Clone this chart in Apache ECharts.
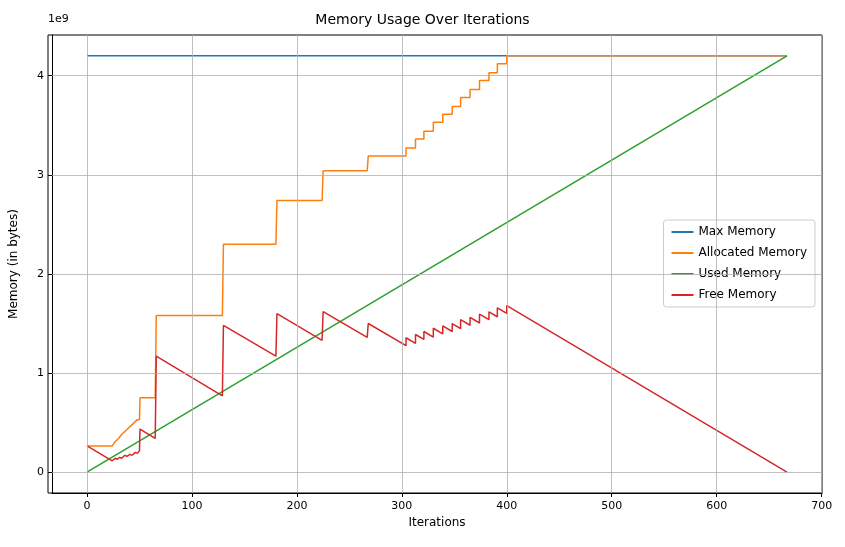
<!DOCTYPE html>
<html><head><meta charset="utf-8">
<script src="https://cdn.jsdelivr.net/npm/echarts@6/dist/echarts.min.js"></script>
<style>html,body{margin:0;padding:0;background:#fff}#c{width:845px;height:547px}</style>
</head><body><div id="c"></div>
<script>
// values in units of 1e9 bytes
const xTicks = [0,100,200,300,400,500,600,700];
const yTicks = [0,1,2,3,4];
const maxMemory = [[0,4.2],[667,4.2]];
const usedMemory = [[0,0],[667,4.2]];
const allocatedMemory = [[0,0.265],[24,0.265],[27,0.31],[30,0.34],[33,0.38],[36,0.41],[39,0.44],[42,0.47],[45,0.50],[48,0.53],[50,0.53],[50.5,0.75],[65,0.75],[66,1.58],[129,1.58],[130,2.30],[180,2.30],[181,2.74],[224,2.74],[225,3.04],[267,3.04],[268,3.19],
[304,3.19],[304,3.27],[313,3.27],[313,3.36],[321,3.36],[321,3.44],[330,3.44],[330,3.53],[339,3.53],[339,3.61],[348,3.61],[348,3.69],[356,3.69],[356,3.78],[365,3.78],[365,3.86],[374,3.86],[374,3.95],[383,3.95],[383,4.03],[391,4.03],[391,4.12],[400,4.12],[400,4.20],[667,4.20]];
const freeMemory = [[0,0.265],[24,0.115],[27,0.14],[29,0.13],[31,0.15],[33,0.14],[36,0.17],[38,0.16],[41,0.18],[43,0.17],[46,0.20],[48,0.19],[50,0.215],[50.5,0.435],[65,0.34],[66,1.17],[129,0.77],[130,1.48],[180,1.17],[181,1.60],[224,1.33],[225,1.62],[267,1.36],[268,1.50],
[304,1.276],[304,1.356],[313,1.299],[313,1.389],[321,1.339],[321,1.419],[330,1.362],[330,1.452],[339,1.395],[339,1.475],[348,1.419],[348,1.499],[356,1.448],[356,1.538],[365,1.482],[365,1.562],[374,1.505],[374,1.595],[383,1.538],[383,1.618],[391,1.568],[391,1.658],[400,1.601],[400,1.681],[667,0]];

const font = 'DejaVu Sans';
const mk = (name, data, color) => ({name, type:'line', data, showSymbol:false, symbol:'none', lineStyle:{width:1.5,color}, itemStyle:{color}});
const chart = echarts.init(document.getElementById('c'));
chart.setOption({
  animation:false,
  textStyle:{fontFamily:font},
  title:{text:'Memory Usage Over Iterations', left:'center', top:8, textStyle:{fontFamily:font,fontSize:14,fontWeight:'normal',color:'#000'}},
  grid:{left:48,right:23,top:35,bottom:54},
  legend:{right:30,top:220,orient:'vertical',itemWidth:22,itemHeight:2,itemGap:9,icon:'rect',
    textStyle:{fontFamily:font,fontSize:12,color:'#000'},
    backgroundColor:'rgba(255,255,255,0.8)',borderColor:'#ccc',borderWidth:1,borderRadius:3,padding:[6,8],
    data:['Max Memory','Allocated Memory','Used Memory','Free Memory']},
  xAxis:{type:'value',min:-33.35,max:700.35,name:'Iterations',nameLocation:'middle',nameGap:24,
    nameTextStyle:{fontFamily:font,fontSize:12,color:'#000'},
    axisLine:{onZero:false,show:true,lineStyle:{color:'#000'}},
    axisTick:{show:true,customValues:xTicks,length:4,lineStyle:{color:'#000'}},
    axisLabel:{customValues:xTicks,color:'#000',fontSize:11,fontFamily:font},
    splitLine:{show:false}},
  yAxis:{type:'value',min:-0.21,max:4.41,name:'Memory (in bytes)',nameLocation:'middle',nameGap:32,
    nameTextStyle:{fontFamily:font,fontSize:12,color:'#000'},
    axisLine:{onZero:false,show:true,lineStyle:{color:'#000'}},
    axisTick:{show:true,customValues:yTicks,length:4,lineStyle:{color:'#000'}},
    axisLabel:{customValues:yTicks,color:'#000',fontSize:11,fontFamily:font},
    splitLine:{show:false}},
  graphic:[{type:'text',left:48,top:14,style:{text:'1e9',font:'11px DejaVu Sans',fill:'#000'}},
    {type:'rect',shape:{x:48,y:35,width:774,height:458},style:{fill:'none',stroke:'#000',lineWidth:1},z:-1}],
  series:[
    mk('Max Memory',maxMemory,'#1f77b4'),
    mk('Allocated Memory',allocatedMemory,'#ff7f0e'),
    mk('Used Memory',usedMemory,'#2ca02c'),
    mk('Free Memory',freeMemory,'#d62728'),
    {type:'line',data:[],silent:true,markLine:{silent:true,symbol:'none',label:{show:false},lineStyle:{color:'#b0b0b0',width:0.8,type:'solid'},
      data:[...xTicks.map(v=>({xAxis:v})),...yTicks.map(v=>({yAxis:v}))]},z:0}
  ]
});
</script></body></html>
